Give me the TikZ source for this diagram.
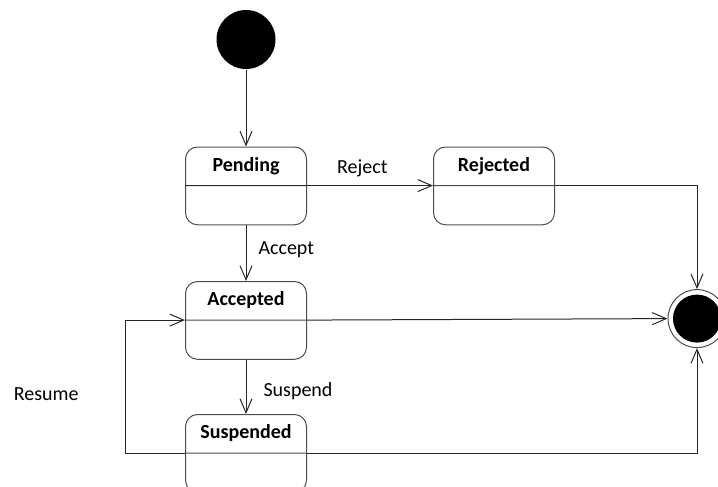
\documentclass[tikz,border=0pt]{standalone}
\usepackage{fontspec}
\setmainfont{Carlito}
\usepackage{tikz}
\usetikzlibrary{calc}
\usetikzlibrary{positioning}
\usetikzlibrary{shapes.multipart}
\usetikzlibrary{arrows.meta}
\tikzstyle{statenode} = [draw=black!70, rectangle split, rectangle split parts=2, rounded corners=6pt, minimum width=60.5pt, text height=7pt, text depth=2pt, inner ysep=4.9pt, rectangle split empty part height=9.3pt, rectangle split empty part depth=0pt, font=\bfseries]
\tikzstyle{startnode} = [circle, fill=black, minimum size=29.5pt, inner sep=0pt]
\tikzstyle{endnode} = [circle, draw=black!70, minimum size=29pt, inner sep=0pt, path picture={\fill (path picture bounding box.center) circle (12pt);}]
\tikzstyle{trans} = [draw=black!85, -{Straight Barb[length=7pt,width=6pt]}]
\tikzstyle{translabel} = [font=\normalfont, inner sep=0pt]

\begin{document}
\begin{tikzpicture}[x=0.5pt, y=-0.5pt, line width=0.5pt]
\useasboundingbox (0,0) rectangle (718,487);
\node[startnode] (start) at (246,39.5) {};
\node[statenode, anchor=north] (pending) at (246,146.5) {Pending \nodepart{two}};
\node[statenode, anchor=north] (rejected) at (494,146.5) {Rejected \nodepart{two}};
\node[statenode, anchor=north] (accepted) at (246,281) {Accepted \nodepart{two}};
\node[statenode, anchor=north] (suspended) at (246,414) {Suspended \nodepart{two}};
\node[endnode] (final) at (697,318.6) {};

\draw[trans] (start) -- (pending);
\draw[trans] (pending.text split west) -- node[translabel, pos=0.715, above=4pt] (lreject) {Reject} (rejected.text split west);
\draw[trans] (rejected.text split east) -| (final.north);
\draw[trans] (pending) -- node[translabel, pos=0.43, right=6pt] (laccept) {Accept} (accepted);
\draw[trans] (accepted.text split east) -- (final.west);
\draw[trans] (accepted) -- node[translabel, pos=0.58, right=8.5pt] (lsuspend) {Suspend} (suspended);
\draw[trans] (suspended.text split west) -- ++(-60,0) |- node[translabel, pos=0.22, left=23pt] (lresume) {Resume} (accepted.text split west);
\draw[trans] (suspended.text split east) -| (final.south);
\end{tikzpicture}
\end{document}
